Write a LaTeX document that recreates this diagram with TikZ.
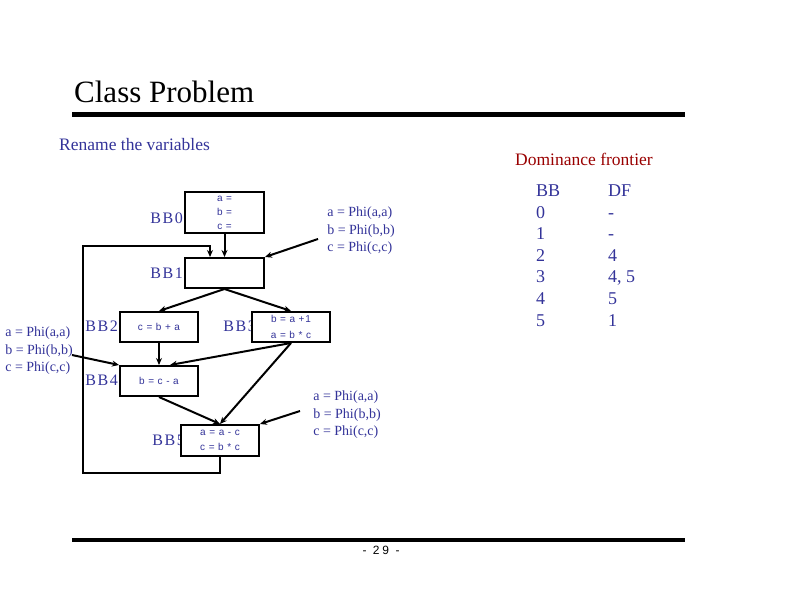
\documentclass[tikz,border=0pt]{standalone}
\usepackage{fontspec}
\setmainfont{Liberation Serif}
\setsansfont{Liberation Sans}
\newfontfamily\boxfont[LetterSpace=8]{Liberation Sans}
\newfontfamily\labelfont[LetterSpace=10]{Liberation Serif}
\newfontfamily\pagefont[LetterSpace=25]{Liberation Sans}
\usetikzlibrary{arrows.meta}
\definecolor{slideblue}{RGB}{51,51,153}
\definecolor{slidered}{RGB}{153,0,0}
\tikzset{
  block/.style={draw, line width=2pt, fill=white, minimum width=78pt, minimum height=30pt,
    inner sep=0pt, align=center, text=slideblue, font=\boxfont\fontsize{10}{14}\selectfont},
  bblabel/.style={anchor=east, inner sep=0pt, text=slideblue, font=\labelfont\fontsize{16}{19}\selectfont},
  phi/.style={inner sep=0pt, align=left, text=slideblue, font=\fontsize{14}{17.5}\selectfont},
  flow/.style={line width=2pt, -{Stealth[length=7pt,width=6pt]}},
  dfcell/.style={anchor=base west, inner sep=0pt, text=slideblue, font=\fontsize{18}{21}\selectfont}
}
\begin{document}
\begin{tikzpicture}[x=1pt,y=1pt,yscale=-1,xscale=1]
\useasboundingbox (0,0) rectangle (792,612);

% Title and rules
\node (title) [anchor=base west, inner sep=0pt, font=\fontsize{31}{36}\selectfont] at (74,103) {Class Problem};
\fill (72,112.3) rectangle (685,116.7);
\fill (72,537.7) rectangle (685,542.3);
\node (pagenum) [inner sep=0pt, font=\pagefont\fontsize{12}{14}\selectfont] at (381,550) {- 29 -};

% Headings
\node (rename) [anchor=base west, inner sep=0pt, text=slideblue, font=\fontsize{17.5}{21}\selectfont] at (59,151) {Rename the variables};
\node (domfront) [anchor=base west, inner sep=0pt, text=slidered, font=\fontsize{17.5}{21}\selectfont] at (515,166) {Dominance frontier};

% Dominance frontier table
\foreach \bb/\df [count=\i] in {BB/DF, 0/-, 1/-, 2/4, 3/{4, 5}, 4/5, 5/1}{
  \node (bbcol\i) [dfcell] at (536,{197+21.5*(\i-1)}) {\bb};
  \node (dfcol\i) [dfcell] at (608,{197+21.5*(\i-1)}) {\df};
}

% Block labels
\node (lblzero) [bblabel] at (183,218) {BB0};
\node (lblone) [bblabel] at (183,273) {BB1};
\node (lbltwo) [bblabel] at (118,326) {BB2};
\node (lblthree) [bblabel] at (256,326) {BB3};
\node (lblfour) [bblabel] at (118,380) {BB4};
\node (lblfive) [bblabel] at (185,440) {BB5};

% Basic blocks
\node (bbzero) [block, minimum width=79pt, minimum height=41pt] at (224.5,212.5) {a =\\b =\\c =};
\node (bbone) [block, minimum width=79pt] at (224.5,273) {};
\node (bbtwo) [block] at (159,327) {c = b + a};
\node (bbthree) [block, font=\boxfont\fontsize{10}{16}\selectfont] at (291,327) {b = a +1\\a = b * c};
\node (bbfour) [block] at (159,381) {b = c - a};
\node (bbfive) [block, minimum height=31pt, font=\boxfont\fontsize{10}{15}\selectfont] at (220,440.5) {a = a - c\\c = b * c};

% Phi annotations
\node (phione) [phi] at (361,231) {a = Phi(a,a)\\b = Phi(b,b)\\c = Phi(c,c)};
\node (phitwo) [phi] at (39,351) {a = Phi(a,a)\\b = Phi(b,b)\\c = Phi(c,c)};
\node (phithree) [phi] at (347,415) {a = Phi(a,a)\\b = Phi(b,b)\\c = Phi(c,c)};
\coordinate (phionetail) at (318,239);
\coordinate (phitwotail) at (72,355);
\coordinate (phithreetail) at (300,411);

% Control flow edges
\draw [flow] (bbzero.south) -- (bbone.north);
\draw [flow] (bbone.south) -- (bbtwo.north);
\draw [flow] (bbone.south) -- (bbthree.north);
\draw [flow] (bbtwo.south) -- (bbfour.north);
\draw [flow] (bbthree.south) -- ([xshift=11pt]bbfour.north);
\draw [flow] (bbthree.south) -- (bbfive.north);
\draw [flow] (bbfour.south) -- (bbfive.north);
\coordinate (loopbottom) at (83,473);
\coordinate (looptop) at (83,246);
\draw [flow] (bbfive.south) |- (loopbottom) -- (looptop) -| ([xshift=-14.5pt]bbone.north);

% Phi arrows
\draw [flow] (phionetail) -- (bbone.north east);
\draw [flow] (phitwotail) -- (bbfour.north west);
\draw [flow] (phithreetail) -- (bbfive.north east);

\end{tikzpicture}
\end{document}
